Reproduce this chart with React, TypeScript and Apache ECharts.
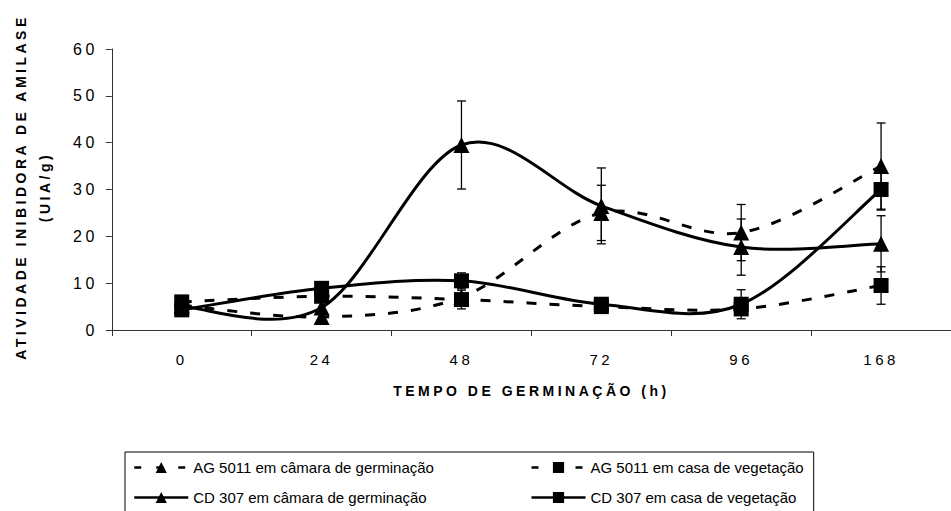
import React, { useEffect, useRef } from 'react';
import * as echarts from 'echarts';

// ---- data ----
const hours = ['0', '24', '48', '72', '96', '168'];
const seriesNames = [
  'AG 5011 em câmara de germinação',
  'AG 5011 em casa de vegetação',
  'CD 307 em câmara de germinação',
  'CD 307 em casa de vegetação',
];
const agCamara = [5.3, 2.8, 7, 25, 20.8, 35];
const agCamaraErr = [0, 0, 0, 5.9, 6, 9.2];
const agVegetacao = [6, 7.2, 6.5, 5, 4.5, 9.5];
const agVegetacaoErr = [0, 0, 2, 0, 0, 4];
const cdCamara = [5, 4.8, 39.5, 26.5, 17.7, 18.4];
const cdCamaraErr = [0, 0, 9.4, 8.1, 6, 6];
const cdVegetacao = [4.3, 8.9, 10.5, 5.5, 5.5, 30];
const cdVegetacaoErr = [0, 0, 1.7, 0, 3.1, 4.4];
const yMin = 0;
const yMax = 60;
const yStep = 10;

const yTitle = 'ATIVIDADE INIBIDORA DE AMILASE\n(UIA/g)';
const xTitle = 'TEMPO DE GERMINAÇÃO (h)';

const DASH = [10, 13];
const LEGEND_DASH = [7, 15];

function curveSeries(values: number[], dashed: boolean) {
  return {
    type: 'custom',
    coordinateSystem: 'cartesian2d',
    silent: true,
    z: 2,
    data: [[0, values[0]]],
    renderItem: (_params: any, api: any) => {
      const pts = values.map((v, i) => api.coord([i, v]));
      let d = `M${pts[0][0]},${pts[0][1]}`;
      for (let i = 0; i < pts.length - 1; i++) {
        const p0 = pts[i - 1] || pts[i];
        const p1 = pts[i];
        const p2 = pts[i + 1];
        const p3 = pts[i + 2] || pts[i + 1];
        const c1x = p1[0] + (p2[0] - p0[0]) / 6;
        const c1y = p1[1] + (p2[1] - p0[1]) / 6;
        const c2x = p2[0] - (p3[0] - p1[0]) / 6;
        const c2y = p2[1] - (p3[1] - p1[1]) / 6;
        d += ` C${c1x},${c1y} ${c2x},${c2y} ${p2[0]},${p2[1]}`;
      }
      return {
        type: 'path',
        shape: { pathData: d },
        style: {
          fill: 'none',
          stroke: '#000',
          lineWidth: 3,
          lineDash: dashed ? DASH : null,
        },
      };
    },
  };
}

function errorSeries(values: number[], errs: number[]) {
  return {
    type: 'custom',
    coordinateSystem: 'cartesian2d',
    silent: true,
    z: 4,
    encode: { x: 0, y: 1 },
    data: values.map((v, i) => [i, v, errs[i]]),
    renderItem: (_params: any, api: any) => {
      const i = api.value(0);
      const v = api.value(1);
      const e = api.value(2);
      if (!e) return null;
      const top = api.coord([i, v + e]);
      const bot = api.coord([i, v - e]);
      const hw = 4.5;
      const st = { stroke: '#000', lineWidth: 1.3 };
      return {
        type: 'group',
        children: [
          { type: 'line', shape: { x1: top[0], y1: top[1], x2: bot[0], y2: bot[1] }, style: st },
          { type: 'line', shape: { x1: top[0] - hw, y1: top[1], x2: top[0] + hw, y2: top[1] }, style: st },
          { type: 'line', shape: { x1: bot[0] - hw, y1: bot[1], x2: bot[0] + hw, y2: bot[1] }, style: st },
        ],
      };
    },
  };
}

function markerSeries(name: string, values: number[], symbol: string, size: number) {
  return {
    name,
    type: 'line',
    data: values,
    symbol,
    symbolSize: size,
    showSymbol: true,
    silent: true,
    z: 3,
    lineStyle: { width: 0, opacity: 0 },
    itemStyle: { color: '#000', opacity: 1 },
  };
}

export default function App() {
  const ref = useRef<HTMLDivElement>(null);

  useEffect(() => {
    if (!ref.current) return;
    const chart = echarts.init(ref.current, null, { renderer: 'svg' });
    const legendItem = (name: string, dashed: boolean, w: number) => ({
      name,
      lineStyle: { color: '#000', width: 2.5, opacity: 1, type: dashed ? LEGEND_DASH : 'solid' },
      textStyle: { width: w },
    });
    chart.setOption({
      animation: false,
      backgroundColor: '#fff',
      grid: { left: 111.8, right: -10, top: 49, bottom: 181, containLabel: false },
      xAxis: {
        type: 'category',
        data: hours,
        boundaryGap: true,
        axisLine: { lineStyle: { color: '#333', width: 1 } },
        axisTick: { show: true, inside: false, length: 6, lineStyle: { color: '#333' } },
        axisLabel: {
          interval: 0,
          margin: 22,
          color: '#000',
          fontSize: 15,
          fontFamily: 'Liberation Sans',
        },
        splitLine: { show: false },
        name: xTitle,
        nameLocation: 'middle',
        nameGap: 54,
        nameTextStyle: {
          color: '#000',
          fontSize: 14,
          fontWeight: 'bold',
          fontFamily: 'Liberation Sans',
        },
      },
      yAxis: {
        type: 'value',
        min: yMin,
        max: yMax,
        interval: yStep,
        axisLine: { show: true, lineStyle: { color: '#333', width: 1 } },
        axisTick: { show: true, inside: false, length: 6, lineStyle: { color: '#333' } },
        axisLabel: {
          margin: 14,
          color: '#000',
          fontSize: 16,
          fontFamily: 'Liberation Sans',
        },
        splitLine: { show: false },
      },
      legend: {
        left: 125,
        top: 452,
        width: 720,
        orient: 'horizontal',
        padding: [8, 10, 40, 8],
        borderColor: '#000',
        borderWidth: 1,
        itemWidth: 54,
        itemHeight: 14,
        itemGap: 15,
        textStyle: { color: '#000', fontSize: 15, fontFamily: 'Arial', lineHeight: 14 },
        data: [
          legendItem(seriesNames[0], true, 322),
          legendItem(seriesNames[1], true, 210),
          legendItem(seriesNames[2], false, 322),
          legendItem(seriesNames[3], false, 210),
        ],
      },
      graphic: [
        {
          type: 'text',
          x: 33,
          y: 187,
          rotation: Math.PI / 2,
          style: {
            text: yTitle,
            align: 'center',
            verticalAlign: 'middle',
            fontSize: 14,
            fontWeight: 'bold',
            fontFamily: 'Liberation Sans',
            lineHeight: 24,
            fill: '#000',
          },
        },
      ],
      series: [
        curveSeries(agCamara, true),
        curveSeries(agVegetacao, true),
        curveSeries(cdCamara, false),
        curveSeries(cdVegetacao, false),
        markerSeries(seriesNames[0], agCamara, 'triangle', 16),
        markerSeries(seriesNames[1], agVegetacao, 'rect', 15),
        markerSeries(seriesNames[2], cdCamara, 'triangle', 16),
        markerSeries(seriesNames[3], cdVegetacao, 'rect', 15),
        errorSeries(agCamara, agCamaraErr),
        errorSeries(agVegetacao, agVegetacaoErr),
        errorSeries(cdCamara, cdCamaraErr),
        errorSeries(cdVegetacao, cdVegetacaoErr),
      ],
    });
    return () => chart.dispose();
  }, []);

  return (
    <>
      <style>{`
        #chart text[style*="Liberation"] { letter-spacing: 3.5px; }
        #chart text[style*="bold"] { letter-spacing: 3.5px; }
      `}</style>
      <div
        id="chart"
        ref={ref}
        style={{ position: 'fixed', left: 0, top: 0, width: 951, height: 511, overflow: 'hidden' }}
      />
    </>
  );
}
